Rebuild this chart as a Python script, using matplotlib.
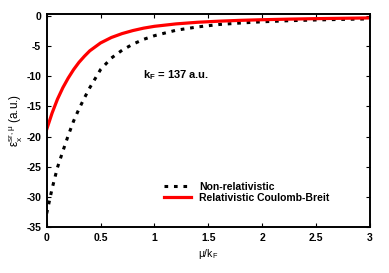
import matplotlib
matplotlib.use("Agg")
import matplotlib.pyplot as plt

plt.rcParams['font.family'] = ['Liberation Sans', 'DejaVu Sans']

mu_over_kf = [0, 0.05, 0.1, 0.15, 0.2, 0.25, 0.3, 0.35, 0.4, 0.5, 0.6, 0.7, 0.8, 0.9,
              1.0, 1.2, 1.4, 1.6, 1.8, 2.0, 2.25, 2.5, 2.75, 3.0]
non_rel = [-32.7, -28.6, -25.1, -22.4, -19.8, -17.4, -15.4, -13.6, -11.9, -8.9, -7.0,
           -5.7, -4.7, -3.9, -3.3, -2.4, -1.85, -1.45, -1.2, -1.0, -0.82, -0.7, -0.6, -0.52]
rel_cb = [-18.8, -16.1, -13.8, -11.9, -10.3, -8.9, -7.7, -6.7, -5.8, -4.5, -3.6,
          -2.95, -2.45, -2.05, -1.75, -1.35, -1.08, -0.9, -0.76, -0.66, -0.56, -0.48, -0.42, -0.36]

xticks = [0, 0.5, 1, 1.5, 2, 2.5, 3]
xticklabels = ['0', '0.5', '1', '1.5', '2', '2.5', '3']
yticks = [0, -5, -10, -15, -20, -25, -30, -35]
yticklabels = ['0', '-5', '-10', '-15', '-20', '-25', '-30', '-35']

fig = plt.figure(figsize=(3.89, 2.73), dpi=100)
ax = fig.add_axes([0.12, 0.167, 0.831, 0.782])

ax.plot(mu_over_kf, non_rel, color='black', lw=2.2, linestyle=(0, (1.2, 1.9)),
        label='Non-relativistic')
ax.plot(mu_over_kf, rel_cb, color='#ff0000', lw=2.3, label='Relativistic Coulomb-Breit')

ax.set_xlim(0, 3)
ax.set_ylim(-35, 0.3)
ax.set_xticks(xticks)
ax.set_xticklabels(xticklabels, fontsize=7.5, fontweight='bold')
ax.set_yticks(yticks)
ax.set_yticklabels(yticklabels, fontsize=7.5, fontweight='bold')
ax.tick_params(direction='in', top=True, right=True, length=3, width=0.8, pad=4)
for s in ax.spines.values():
    s.set_linewidth(1.4)

ax.set_xlabel(r'$\mathregular{\mu/k_F}$', fontsize=7.5, labelpad=3)
ax.set_ylabel(r'$\mathregular{\varepsilon_x^{sr,\mu}}$ (a.u.)', fontsize=8.5, labelpad=1)

ax.text(0.89, -10.3, r'$\mathregular{k_F}$ = 137 a.u.', fontsize=8, fontweight='bold')

leg = ax.legend(loc='lower right', bbox_to_anchor=(0.905, 0.07), frameon=False,
                handlelength=2.6, handletextpad=0.85, labelspacing=0.1,
                prop={'weight': 'bold', 'size': 7.5})

fig.savefig('out.png', dpi=100)
